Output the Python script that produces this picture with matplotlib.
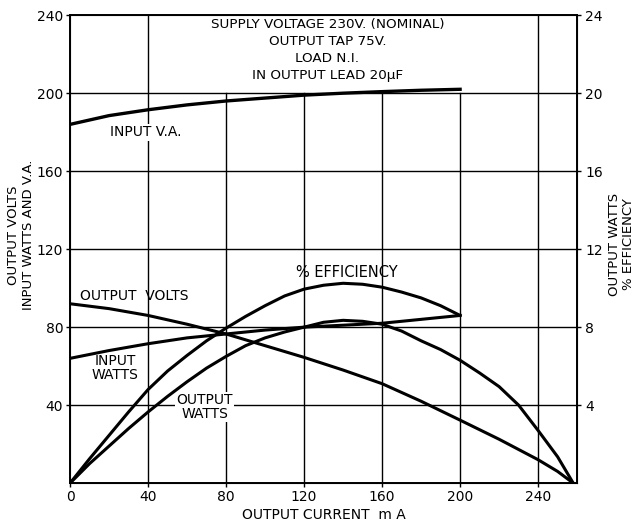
import matplotlib
matplotlib.use("Agg")
import matplotlib.pyplot as plt

# current (mA) for each curve
va_ma = [0, 20, 40, 60, 80, 100, 120, 140, 160, 180, 200]
input_va = [184, 188.5, 191.5, 194, 196, 197.5, 199, 200, 200.8, 201.5, 202]

inw_ma = [0, 20, 40, 60, 80, 100, 120, 140, 160, 180, 200]
input_watts = [64, 68, 71.5, 74.5, 76.5, 78.5, 80, 81, 82, 84, 86]

volts_ma = [0, 20, 40, 60, 80, 100, 120, 140, 160, 180, 200, 220, 240, 250, 258]
output_volts = [92, 89.5, 86, 81.5, 76.5, 70.5, 64.5, 58, 51, 42, 32.3, 22.5, 12, 6, 0]

# right-hand scale (watts, per cent)
outw_ma = [0, 10, 20, 30, 40, 50, 60, 70, 80, 90, 100, 110, 120, 130, 140, 150, 160,
           170, 180, 190, 200, 210, 220, 230, 240, 250, 258]
output_watts = [0, 1.0, 1.9, 2.8, 3.65, 4.45, 5.2, 5.9, 6.5, 7.05, 7.45, 7.75, 8.0, 8.25,
                8.35, 8.3, 8.15, 7.8, 7.3, 6.85, 6.3, 5.65, 4.95, 4.0, 2.7, 1.35, 0]

eff_ma = [0, 10, 20, 30, 40, 50, 60, 70, 80, 90, 100, 110, 120, 130, 140, 150, 160,
          170, 180, 190, 200]
efficiency = [0, 1.25, 2.45, 3.65, 4.8, 5.75, 6.55, 7.3, 7.95, 8.55, 9.1, 9.6, 9.95,
              10.15, 10.25, 10.2, 10.05, 9.8, 9.5, 9.1, 8.6]

x_ticks = [0, 40, 80, 120, 160, 200, 240]
left_ticks = [40, 80, 120, 160, 200, 240]
right_ticks = [4, 8, 12, 16, 20, 24]

plt.rcParams['font.family'] = 'DejaVu Sans'
fig = plt.figure(figsize=(6.37, 5.24), dpi=100)
ax = fig.add_axes([0.110, 0.078, 0.796, 0.893])
ax.set_xlim(0, 260)
ax.set_ylim(0, 240)

# grid: verticals under the note box stop at the 200 line
for x in x_ticks[1:]:
    top = 240 if x in (40, 240) else 200
    ax.plot([x, x], [0, top], color='black', lw=1.0, zorder=1)
for y in left_ticks[:-1]:
    ax.axhline(y, color='black', lw=1.0, zorder=1)

ax.set_xticks(x_ticks)
ax.set_yticks(left_ticks)
ax.tick_params(length=3, width=1, labelsize=10, pad=2)
for s in ax.spines.values():
    s.set_linewidth(1.4)

ax.plot(va_ma, input_va, color='black', lw=2.4, zorder=3)
ax.plot(inw_ma, input_watts, color='black', lw=2.2, zorder=3)
ax.plot(volts_ma, output_volts, color='black', lw=2.2, zorder=3)

ax2 = ax.twinx()
ax2.set_ylim(0, 24)
ax2.set_yticks(right_ticks)
ax2.tick_params(length=3, width=1, labelsize=10, pad=3)
ax2.plot(outw_ma, output_watts, color='black', lw=2.2, zorder=3)
ax2.plot(eff_ma, efficiency, color='black', lw=2.2, zorder=3)

box = dict(facecolor='white', edgecolor='none', pad=1)
ax2.text(132, 23.85, 'SUPPLY VOLTAGE 230V. (NOMINAL)\nOUTPUT TAP 75V.\nLOAD N.I.\nIN OUTPUT LEAD 20\u03bcF',
         ha='center', va='top', fontsize=9.7, linespacing=1.38)
ax.text(39, 180, 'INPUT V.A.', ha='center', va='center', fontsize=10, bbox=box, zorder=2)
ax.text(33, 96, 'OUTPUT  VOLTS', ha='center', va='center', fontsize=10, zorder=2)
ax.text(23, 59, 'INPUT\nWATTS', ha='center', va='center', fontsize=10, linespacing=1.0, zorder=2)
ax.text(69, 39, 'OUTPUT\nWATTS', ha='center', va='center', fontsize=10, linespacing=1.0,
        bbox=box, zorder=2)
ax.text(142, 108, '% EFFICIENCY', ha='center', va='center', fontsize=10.5, zorder=2)

ax.set_xlabel('OUTPUT CURRENT  m A', fontsize=10, labelpad=3)
ax.set_ylabel('OUTPUT VOLTS\nINPUT WATTS AND V.A.', fontsize=9.5, linespacing=1.15)
ax.yaxis.set_label_coords(-0.07, 0.53)
ax2.set_ylabel('OUTPUT WATTS\n% EFFICIENCY', fontsize=9.5, linespacing=1.15)
ax2.yaxis.set_label_coords(1.06, 0.51)

fig.savefig('out.png', dpi=100)
